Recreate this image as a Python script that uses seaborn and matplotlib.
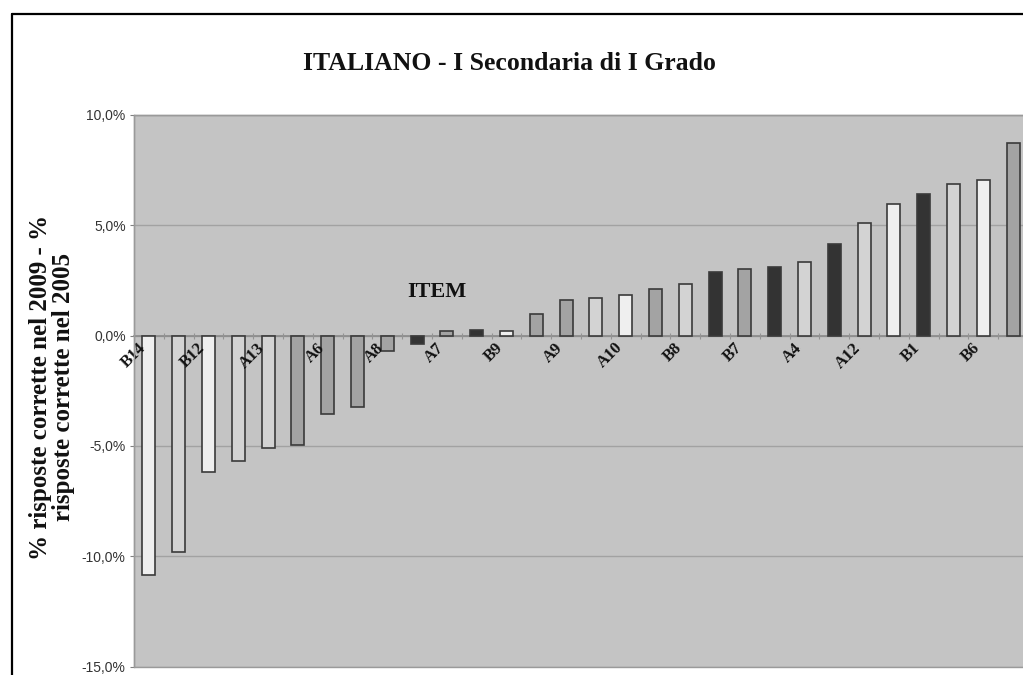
import numpy as np
import matplotlib
matplotlib.use("Agg")
import matplotlib.pyplot as plt
from matplotlib.ticker import FuncFormatter, MultipleLocator, FixedLocator
from matplotlib.patches import Rectangle
from matplotlib.lines import Line2D
import seaborn as sns

# Difference in % correct answers (2009 - 2005), per item, sorted ascending
item_pos = np.arange(30)
delta_pct = [-10.85, -9.8, -6.2, -5.7, -5.1, -4.95, -3.55, -3.25, -0.7, -0.4,
             0.2, 0.25, 0.2, 1.0, 1.6, 1.7, 1.85, 2.1, 2.35, 2.9,
             3.0, 3.1, 3.35, 4.15, 5.1, 5.95, 6.4, 6.85, 7.05, 8.75]
# Shading group of each item bar
group = ["W", "L", "W", "L", "L", "M", "M", "M", "M", "D",
         "M", "D", "W", "M", "M", "L", "W", "M", "L", "D",
         "M", "D", "L", "D", "L", "W", "D", "L", "W", "M"]
# Labels shown on every other category
tick_labels = ["B14", "B12", "A13", "A6", "A8", "A7", "B9", "A9",
               "A10", "B8", "B7", "A4", "A12", "B1", "B6"]

title = "ITALIANO - I Secondaria di I Grado"
y_title = "% risposte corrette nel 2009 - %\nrisposte corrette nel 2005"
x_title = "ITEM"

shade = {"W": "#efefef", "L": "#d3d3d3", "M": "#a3a3a3", "D": "#333333"}
serif = ["Liberation Serif", "DejaVu Serif"]
sans = ["Liberation Sans", "DejaVu Sans"]

sns.set_style("white")

W, H = 1023, 675
fig = plt.figure(figsize=(W / 100, H / 100), dpi=100)
fig.patch.set_facecolor("white")

# plot area runs past the right edge of the canvas
left_px, right_px, top_px, bottom_px = 134, 1028, 115, 666.5
ax = fig.add_axes([left_px / W, (H - bottom_px) / H,
                   (right_px - left_px) / W, (bottom_px - top_px) / H])
ax.set_facecolor("#c4c4c4")

sns.barplot(x=item_pos, y=delta_pct, hue=group, palette=shade, dodge=False,
            width=0.44, edgecolor="#3a3a3a", linewidth=1.2, legend=False,
            ax=ax, zorder=3)

ax.set_xlim(-0.5, 29.5)
ax.set_ylim(-15, 10)

# y axis
ax.yaxis.set_major_locator(MultipleLocator(5))
ax.yaxis.set_major_formatter(FuncFormatter(lambda v, _: f"{v:.1f}%".replace(".", ",")))
ax.tick_params(axis="y", which="major", left=True, length=3, width=0.8,
               color="#808080", pad=3, labelsize=10, labelcolor="#333333")
for lab in ax.get_yticklabels():
    lab.set_family(sans)
ax.set_axisbelow(True)
ax.yaxis.grid(True, color="#a2a2a2", linewidth=1.0, zorder=0)

# category axis sits on the zero line
ax.spines["bottom"].set_position(("data", 0))
ax.spines["bottom"].set_color("#8a8a8a")
ax.spines["bottom"].set_linewidth(1.2)
ax.spines["bottom"].set_zorder(2)
for s in ("left", "top", "right"):
    ax.spines[s].set_color("#9a9a9a")
    ax.spines[s].set_linewidth(1.0)

ax.xaxis.set_major_locator(FixedLocator(item_pos[::2]))
ax.set_xticklabels(tick_labels, rotation=45, ha="right", va="top",
                   family=serif, fontsize=12, fontweight="bold", color="#111111")
ax.xaxis.set_minor_locator(FixedLocator(np.arange(-0.5, 30, 1.0)))
ax.tick_params(axis="x", which="major", bottom=True, length=0, pad=3)
ax.tick_params(axis="x", which="minor", bottom=True, direction="inout",
               length=5, width=0.8, color="#939393")
# labels of the category axis are written over the bars
ax.xaxis.set_zorder(4)

# border of the plot area
ax.add_patch(Rectangle((0, 0), 1, 1, transform=ax.transAxes, fill=False,
                       edgecolor="#9a9a9a", linewidth=1.0, clip_on=False, zorder=5))

# axis titles
ax.set_xlabel(x_title, family=serif, fontsize=16, fontweight="bold", color="#111111")
ax.xaxis.set_label_coords((437 - left_px) / (right_px - left_px),
                          (bottom_px - 292) / (bottom_px - top_px))
ax.xaxis.label.set_va("center")

ax.set_ylabel(y_title, family=serif, fontsize=18, fontweight="bold",
              color="#111111", linespacing=1.0)
ax.yaxis.set_label_coords((75 - left_px) / (right_px - left_px),
                          (bottom_px - 387) / (bottom_px - top_px))

fig.text(509 / W, 1 - 63 / H, title, family=serif, fontsize=18.5,
         fontweight="bold", color="#111111", ha="center", va="center")

# outer frame of the chart
fig.add_artist(Line2D([12 / W, 1.02], [1 - 13.5 / H, 1 - 13.5 / H],
                      transform=fig.transFigure, color="black", linewidth=1.6))
fig.add_artist(Line2D([12 / W, 12 / W], [1 - 13.5 / H, -0.02],
                      transform=fig.transFigure, color="black", linewidth=1.6))

fig.savefig("out.png", dpi=100)
